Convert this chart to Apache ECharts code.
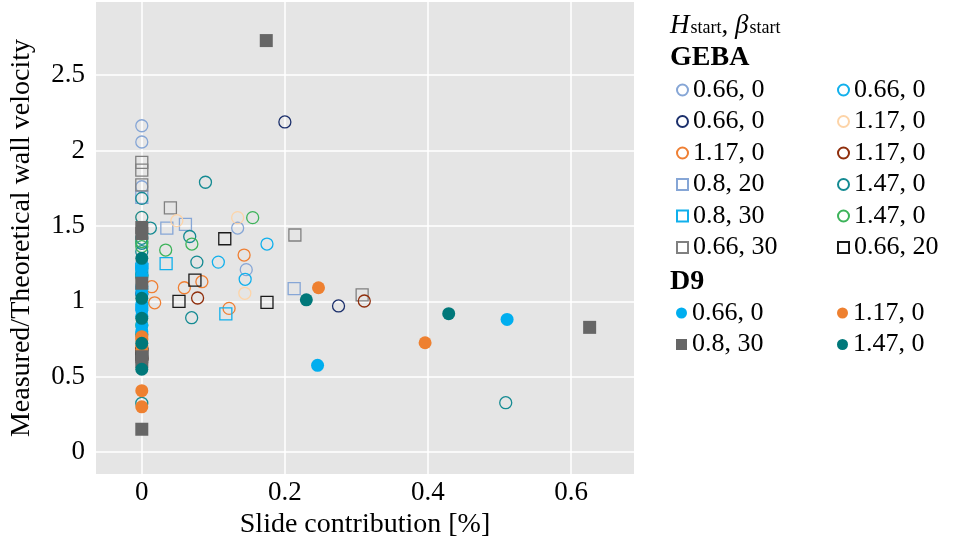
<!DOCTYPE html>
<html>
<head>
<meta charset="utf-8">
<script src="https://cdn.jsdelivr.net/npm/echarts@6/dist/echarts.min.js"></script>
<style>
html,body{margin:0;padding:0;background:#fff;}
#c{width:955px;height:545px;}
</style>
</head>
<body>
<div id="c"></div>
<script>
// ---- data: [slide contribution, measured/theoretical velocity] ----
const gebaA = [[0,2.165],[0,2.057],[0,1.76],[0,1.25],[0,1.22],[0,0.95],[0.134,1.486],[0.146,1.21]];
const gebaB = [[0.200,2.19],[0.275,0.969],[0,1.05],[0,0.68]];
const gebaC = [[0.014,1.097],[0.018,0.99],[0.0595,1.09],[0.084,1.13],[0.122,0.953],[0.143,1.307],[0,0.70],[0,0.75]];
const gebaD = [[0.035,1.486],[0.061,1.51],[0.213,1.084],[0,1.69]];
const gebaE = [[0.034,1.25],[0.1175,0.916],[0,1.21]];
const gebaF = [[0.040,1.62],[0.214,1.44],[0.308,1.042],[0,1.922],[0,1.871],[0,1.772]];
const gebaG = [[0.107,1.26],[0.1445,1.146],[0.175,1.38],[0,1.24],[0,1.08],[0,0.96]];
const gebaH = [[0.049,1.535],[0.134,1.555],[0.144,1.053],[0,1.557]];
const gebaI = [[0.078,1.022],[0.311,1.002],[0,0.62]];
const gebaJ = [[0.089,1.79],[0.012,1.486],[0.067,1.43],[0.077,1.26],[0.0697,0.891],[0.5087,0.327],[0,1.683],[0,1.557],[0,1.418],[0,1.385],[0,1.329],[0,1.175],[0,0.78],[0,0.323]];
const gebaK = [[0.0334,1.34],[0.070,1.38],[0.155,1.555],[0,1.396],[0,1.363],[0,1.163],[0,0.843]];
const gebaL = [[0.052,1.0],[0.0743,1.141],[0.116,1.415],[0.175,0.993],[0,0.65]];
const d9M = [[0.2457,0.575],[0.5106,0.880],[0,1.22],[0,1.17],[0,1.10],[0,1.05],[0,0.98],[0,0.94],[0,0.90],[0,0.84],[0,0.80]];
const d9N = [[0.247,1.09],[0.396,0.725],[0,0.765],[0,0.68],[0,0.407],[0,0.30]];
const d9O = [[0.174,2.73],[0.626,0.827],[0,1.49],[0,1.45],[0,1.12],[0,0.632],[0,0.60],[0,0.151]];
const d9P = [[0.230,1.01],[0.429,0.918],[0,1.285],[0,1.02],[0,0.887],[0,0.721],[0,0.549]];

const xTicks = [0, 0.2, 0.4, 0.6];
const yTicks = [0, 0.5, 1, 1.5, 2, 2.5];

const FONT = '"Liberation Serif", "DejaVu Serif", serif';

// name|id ; shape ; filled ; color ; data
const defs = [
  ['0.66, 0|A', 'circle', false, '#86a6d6', gebaA],
  ['0.66, 0|B', 'circle', false, '#1b2f6b', gebaB],
  ['1.17, 0|C', 'circle', false, '#ef7f33', gebaC],
  ['0.8, 20|D', 'rect', false, '#86a6d6', gebaD],
  ['0.8, 30|E', 'rect', false, '#11b0ec', gebaE],
  ['0.66, 30|F', 'rect', false, '#808080', gebaF],
  ['0.66, 0|G', 'circle', false, '#11b0ec', gebaG],
  ['1.17, 0|H', 'circle', false, '#fdd4a8', gebaH],
  ['1.17, 0|I', 'circle', false, '#8f2e0c', gebaI],
  ['1.47, 0|J', 'circle', false, '#148a92', gebaJ],
  ['1.47, 0|K', 'circle', false, '#3db35a', gebaK],
  ['0.66, 20|L', 'rect', false, '#1a1a1a', gebaL],
  ['0.66, 0|M', 'circle', true, '#00aeef', d9M],
  ['1.17, 0|N', 'circle', true, '#ee8030', d9N],
  ['0.8, 30|O', 'rect', true, '#666666', d9O],
  ['1.47, 0|P', 'circle', true, '#00787a', d9P]
];

const series = defs.map(d => ({
  name: d[0],
  type: 'scatter',
  symbol: d[1],
  symbolSize: d[2] ? 13 : 12,
  data: d[4],
  itemStyle: d[2]
    ? { color: d[3], opacity: 1 }
    : { color: 'rgba(0,0,0,0)', borderColor: d[3], borderWidth: 1.3, opacity: 1 },
  emphasis: { disabled: true },
  silent: true
}));

function legendBlock(names, left, top) {
  return {
    data: names,
    orient: 'vertical',
    left: left, top: top,
    padding: 0,
    itemGap: 5.5,
    itemWidth: 11, itemHeight: 11,
    selectedMode: false,
    formatter: n => n.split('|')[0],
    textStyle: { fontFamily: FONT, fontSize: 26, color: '#000', lineHeight: 26 }
  };
}

const chart = echarts.init(document.getElementById('c'), null, { renderer: 'canvas' });
chart.setOption({
  animation: false,
  backgroundColor: '#fff',
  grid: { left: 94, right: 321, top: 2, bottom: 71, show: true, backgroundColor: '#e5e5e5', borderWidth: 0 },
  xAxis: {
    type: 'value', min: -0.064, max: 0.688, splitNumber: 4,
    name: 'Slide contribution [%]', nameLocation: 'middle', nameGap: 37,
    nameTextStyle: { fontFamily: FONT, fontSize: 28, color: '#000' },
    axisLine: { show: false }, axisTick: { show: false },
    axisLabel: { fontFamily: FONT, fontSize: 27, color: '#000', margin: 5, showMinLabel: false, showMaxLabel: false,
      formatter: v => xTicks.some(t => Math.abs(t - v) < 1e-9) ? String(+v.toFixed(1)) : '' },
    splitLine: { show: true, showMinLine: false, showMaxLine: false, lineStyle: { color: '#fff', width: 1.5 } }
  },
  yAxis: {
    type: 'value', min: -0.146, max: 2.986, splitNumber: 6,
    name: 'Measured/Theoretical wall velocity', nameLocation: 'middle', nameGap: 60,
    nameTextStyle: { fontFamily: FONT, fontSize: 28, color: '#000' },
    axisLine: { show: false }, axisTick: { show: false },
    axisLabel: { fontFamily: FONT, fontSize: 27, color: '#000', margin: 11, showMinLabel: false, showMaxLabel: false,
      formatter: v => yTicks.some(t => Math.abs(t - v) < 1e-9) ? String(+v.toFixed(1)) : '' },
    splitLine: { show: true, showMinLine: false, showMaxLine: false, lineStyle: { color: '#fff', width: 1.5 } }
  },
  legend: [
    legendBlock(['0.66, 0|A', '0.66, 0|B', '1.17, 0|C', '0.8, 20|D', '0.8, 30|E', '0.66, 30|F'], 676, 77),
    legendBlock(['0.66, 0|G', '1.17, 0|H', '1.17, 0|I', '1.47, 0|J', '1.47, 0|K', '0.66, 20|L'], 837, 77),
    legendBlock(['0.66, 0|M', '0.8, 30|O'], 676, 300),
    legendBlock(['1.17, 0|N', '1.47, 0|P'], 837, 300)
  ],
  graphic: [
    { type: 'text', left: 670, top: 12, style: {
      text: '{i|H}{s|start}{n|, }{i|β}{s|start}',
      rich: {
        i: { fontFamily: FONT, fontStyle: 'italic', fontSize: 27, fill: '#000', verticalAlign: 'bottom' },
        s: { fontFamily: FONT, fontSize: 18, fill: '#000', padding: [0, 0, -6, 1] },
        n: { fontFamily: FONT, fontSize: 27, fill: '#000' }
      } } },
    { type: 'text', left: 670, top: 44, style: { text: 'GEBA', fontFamily: FONT, fontWeight: 'bold', fontSize: 28, fill: '#000' } },
    { type: 'text', left: 670, top: 268, style: { text: 'D9', fontFamily: FONT, fontWeight: 'bold', fontSize: 28, fill: '#000' } }
  ],
  series: series
});
</script>
</body>
</html>
